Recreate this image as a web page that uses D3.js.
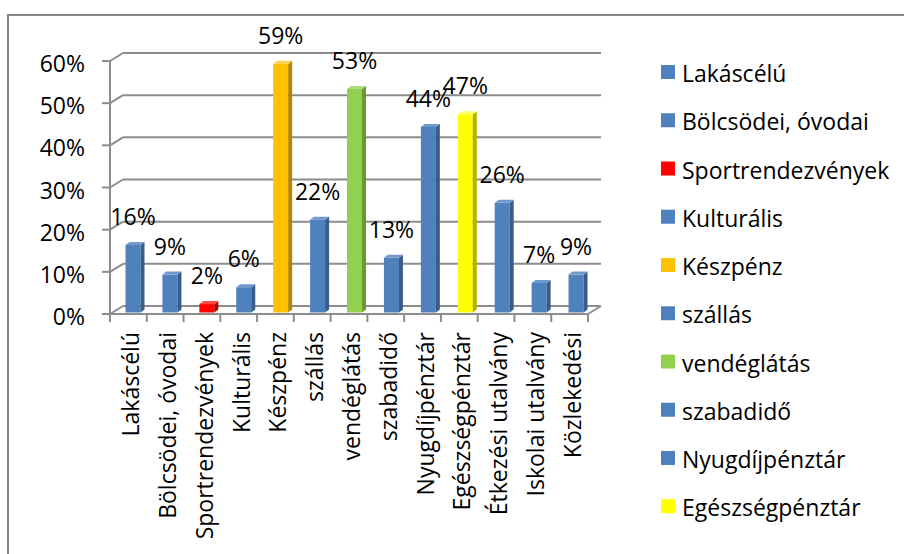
<!DOCTYPE html>
<html>
<head>
<meta charset="utf-8">
<script src="https://cdn.jsdelivr.net/npm/d3@7"></script>
<style>
  html, body { margin: 0; padding: 0; background: #fff; }
  svg { display: block; font-family: "Open Sans", sans-serif; }
</style>
</head>
<body>
<svg id="chart" width="904" height="554"></svg>
<script>
// Categories and their shares (percent)
const categories = [
  "Lakáscélú", "Bölcsödei, óvodai", "Sportrendezvények", "Kulturális",
  "Készpénz", "szállás", "vendéglátás", "szabadidő", "Nyugdíjpénztár",
  "Egészségpénztár", "Étkezési utalvány", "Iskolai utalvány", "Közlekedési"
];
const values = [16, 9, 2, 6, 59, 22, 53, 13, 44, 47, 26, 7, 9];
const colorKeys = ["blue", "blue", "red", "blue", "orange", "blue", "green",
                   "blue", "blue", "yellow", "blue", "blue", "blue"];
const yTicks = [0, 10, 20, 30, 40, 50, 60];
// Only the first ten series fit in the legend
const legendCount = 10;

const palette = {
  blue:   { front: "#4f81bd", side: "#385d8a", top: "#6f98cc" },
  red:    { front: "#ff0000", side: "#b00000", top: "#ff4a4a" },
  orange: { front: "#ffc000", side: "#b38700", top: "#ffd24d" },
  green:  { front: "#92d050", side: "#679a35", top: "#addc7c" },
  yellow: { front: "#ffff00", side: "#b3b300", top: "#ffff66" }
};

const svg = d3.select("#chart");
const FONT = 23;

// Outer chart frame (only its top and left edges fall inside the view)
svg.append("rect")
  .attr("x", 8).attr("y", 15)
  .attr("width", 920).attr("height", 560)
  .attr("fill", "none").attr("stroke", "#868686").attr("stroke-width", 2);

// Plot geometry: front floor edge and depth offset for the back wall
const x0 = 110, x1 = 588;
const depth = { dx: 13, dy: -8 };
const x = d3.scaleBand().domain(categories).range([x0, x1]).paddingInner(0).paddingOuter(0);
const y = d3.scaleLinear().domain([0, 60]).range([314, 61]);

const grid = svg.append("g").attr("stroke", "#8c8c8c").attr("stroke-width", 2).attr("fill", "none");

// Back wall gridlines + left wall diagonals
yTicks.forEach(t => {
  const yf = y(t);
  grid.append("line")
    .attr("x1", x0 + depth.dx).attr("y1", yf + depth.dy)
    .attr("x2", x1 + depth.dx).attr("y2", yf + depth.dy);
  grid.append("line")
    .attr("x1", x0).attr("y1", yf)
    .attr("x2", x0 + depth.dx).attr("y2", yf + depth.dy);
});
// Floor: front edge and right diagonal
grid.append("line").attr("x1", x0).attr("y1", y(0)).attr("x2", x1).attr("y2", y(0));
grid.append("line").attr("x1", x1).attr("y1", y(0))
  .attr("x2", x1 + depth.dx).attr("y2", y(0) + depth.dy);
// Vertical value axis
grid.append("line").attr("x1", x0).attr("y1", y(60)).attr("x2", x0).attr("y2", y(0));

// Value axis ticks and labels
yTicks.forEach(t => {
  grid.append("line").attr("x1", x0 - 8).attr("y1", y(t)).attr("x2", x0).attr("y2", y(t));
});
svg.append("g").selectAll("text").data(yTicks).join("text")
  .attr("x", 85).attr("y", d => y(d) + 2)
  .attr("text-anchor", "end").attr("dominant-baseline", "central")
  .attr("font-size", FONT).attr("fill", "#000")
  .text(d => d + "%");

// Category ticks
const bounds = categories.map(c => x(c)).concat([x1]);
bounds.forEach(b => {
  grid.append("line").attr("x1", b).attr("y1", y(0)).attr("x2", b).attr("y2", y(0) + 8);
});

// Category labels, rotated
svg.append("g").selectAll("text").data(categories).join("text")
  .attr("transform", d => `translate(${x(d) + x.bandwidth() / 2 + 2},332) rotate(-90)`)
  .attr("text-anchor", "end").attr("dominant-baseline", "central")
  .attr("font-size", FONT).attr("fill", "#000")
  .text(d => d);

// 3D bars
const barW = 15, sideDx = 4, sideDy = -3, barOffset = 15.5;
const bars = svg.append("g");
categories.forEach((c, i) => {
  const v = values[i];
  const col = palette[colorKeys[i]];
  const left = x(c) + barOffset + i * 0.15;
  const right = left + barW;
  const bottom = y(0) - 1.5;
  const top = y(v) - 1.5;
  bars.append("rect")
    .attr("x", left).attr("y", top)
    .attr("width", barW).attr("height", bottom - top)
    .attr("fill", col.front);
  bars.append("path")
    .attr("d", `M${right},${top}L${right + sideDx},${top + sideDy}L${right + sideDx},${bottom + sideDy}L${right},${bottom}Z`)
    .attr("fill", col.side);
  bars.append("path")
    .attr("d", `M${left},${top}L${left + sideDx},${top + sideDy}L${right + sideDx},${top + sideDy}L${right},${top}Z`)
    .attr("fill", col.top);
  // Data label
  svg.append("text")
    .attr("x", left + barW / 2)
    .attr("y", top - 20)
    .attr("text-anchor", "middle")
    .attr("font-size", FONT).attr("fill", "#000")
    .text(v + "%");
});

// Legend
const legend = svg.append("g");
categories.slice(0, legendCount).forEach((c, i) => {
  const cy = 72 + i * 48.25;
  legend.append("rect")
    .attr("x", 661).attr("y", cy - 7)
    .attr("width", 14).attr("height", 14)
    .attr("fill", palette[colorKeys[i]].front);
  legend.append("text")
    .attr("x", 682).attr("y", cy + 1)
    .attr("dominant-baseline", "central")
    .attr("font-size", FONT).attr("fill", "#000")
    .text(c);
});
</script>
</body>
</html>
